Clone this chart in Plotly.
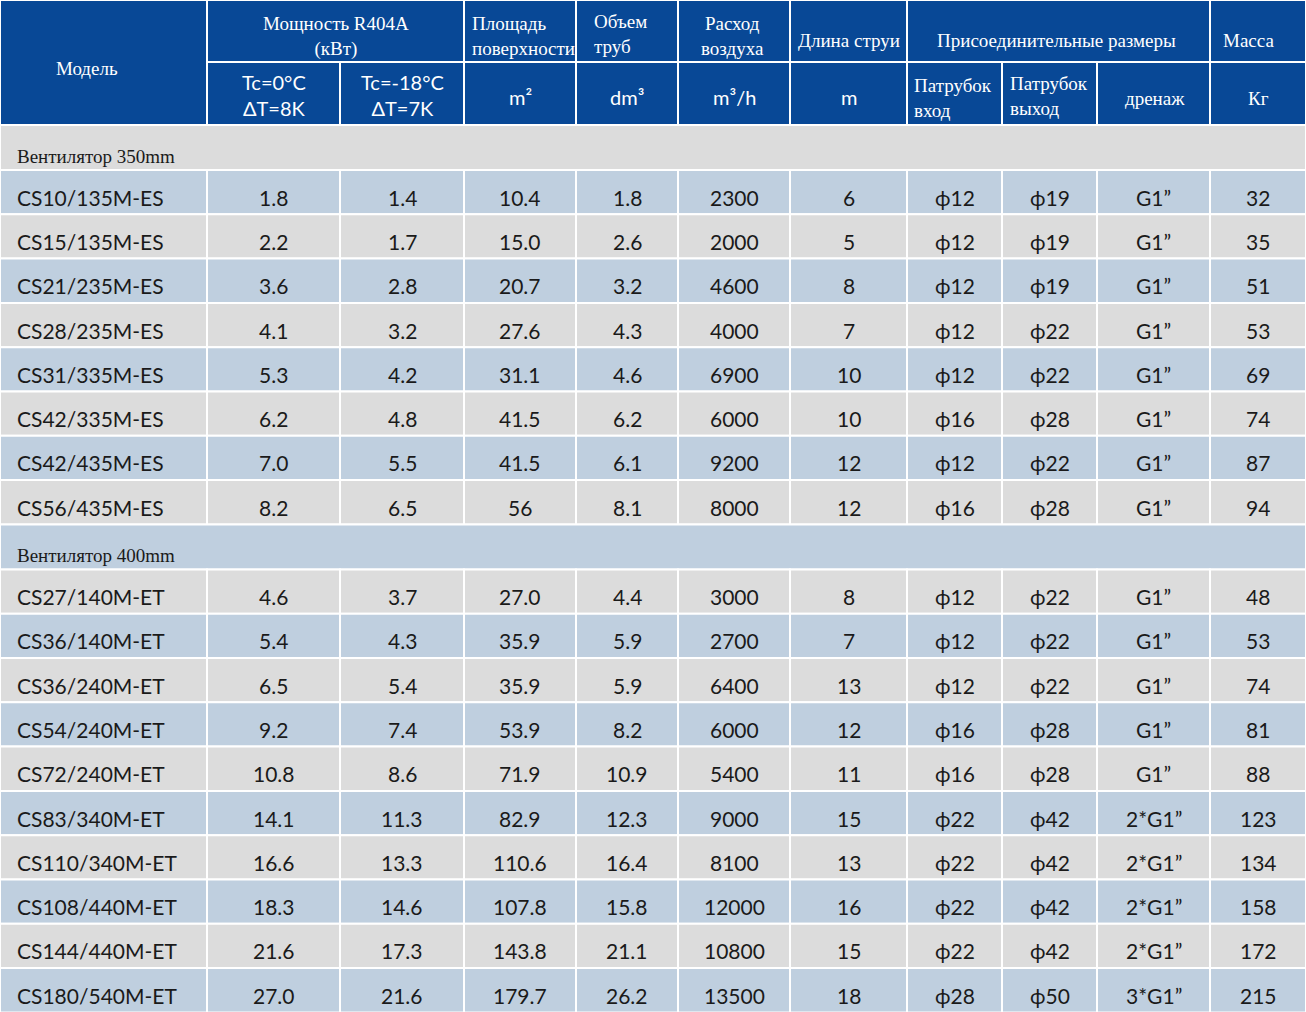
import plotly.graph_objects as go

# --- table data ---
models_350 = ["CS10/135M-ES", "CS15/135M-ES", "CS21/235M-ES", "CS28/235M-ES",
              "CS31/335M-ES", "CS42/335M-ES", "CS42/435M-ES", "CS56/435M-ES"]
models_400 = ["CS27/140M-ET", "CS36/140M-ET", "CS36/240M-ET", "CS54/240M-ET", "CS72/240M-ET",
              "CS83/340M-ET", "CS110/340M-ET", "CS108/440M-ET", "CS144/440M-ET", "CS180/540M-ET"]
cap_0 = ["1.8", "2.2", "3.6", "4.1", "5.3", "6.2", "7.0", "8.2",
         "4.6", "5.4", "6.5", "9.2", "10.8", "14.1", "16.6", "18.3", "21.6", "27.0"]
cap_18 = ["1.4", "1.7", "2.8", "3.2", "4.2", "4.8", "5.5", "6.5",
          "3.7", "4.3", "5.4", "7.4", "8.6", "11.3", "13.3", "14.6", "17.3", "21.6"]
area = ["10.4", "15.0", "20.7", "27.6", "31.1", "41.5", "41.5", "56",
        "27.0", "35.9", "35.9", "53.9", "71.9", "82.9", "110.6", "107.8", "143.8", "179.7"]
volume = ["1.8", "2.6", "3.2", "4.3", "4.6", "6.2", "6.1", "8.1",
          "4.4", "5.9", "5.9", "8.2", "10.9", "12.3", "16.4", "15.8", "21.1", "26.2"]
airflow = ["2300", "2000", "4600", "4000", "6900", "6000", "9200", "8000",
           "3000", "2700", "6400", "6000", "5400", "9000", "8100", "12000", "10800", "13500"]
throw = ["6", "5", "8", "7", "10", "10", "12", "12",
         "8", "7", "13", "12", "11", "15", "13", "16", "15", "18"]
inlet = ["ϕ12", "ϕ12", "ϕ12", "ϕ12", "ϕ12", "ϕ16", "ϕ12", "ϕ16",
         "ϕ12", "ϕ12", "ϕ12", "ϕ16", "ϕ16", "ϕ22", "ϕ22", "ϕ22", "ϕ22", "ϕ28"]
outlet = ["ϕ19", "ϕ19", "ϕ19", "ϕ22", "ϕ22", "ϕ28", "ϕ22", "ϕ28",
          "ϕ22", "ϕ22", "ϕ22", "ϕ28", "ϕ28", "ϕ42", "ϕ42", "ϕ42", "ϕ42", "ϕ50"]
drain = ["G1”"] * 13 + ["2*G1”"] * 4 + ["3*G1”"]
mass = ["32", "35", "51", "53", "69", "74", "87", "94",
        "48", "53", "74", "81", "88", "123", "134", "158", "172", "215"]
sections = ["Вентилятор 350mm", "Вентилятор 400mm"]

# --- layout geometry (pixels) ---
W, H = 1306, 1012
xs = [0, 207, 340, 464, 576, 678, 790, 907, 1002, 1097, 1210, 1306]
HDR = "#084896"
BLUE = "#bfcfdf"
GRAY = "#dcdcdc"
SERIF = "Liberation Serif"
SANS = "Lato"

shapes = []
ann = []


def cell(x0, x1, y0, y1, color):
    shapes.append(dict(type="rect", x0=x0, x1=x1, y0=y0, y1=y1, fillcolor=color,
                       line=dict(color="white", width=2), layer="below"))


def text(x, y, s, font, size, color="#1a1a1a", anchor="center"):
    ann.append(dict(x=x, y=y, text=s, showarrow=False, xanchor=anchor, yanchor="middle",
                    align=anchor if anchor != "center" else "center",
                    font=dict(family=font, size=size, color=color)))


# header
h0, h1, h2 = 0, 62, 125
for x0, x1, y0, y1 in [(xs[0], xs[1], h0, h2), (xs[1], xs[3], h0, h1), (xs[3], xs[4], h0, h1),
                       (xs[4], xs[5], h0, h1), (xs[5], xs[6], h0, h1), (xs[6], xs[7], h0, h1),
                       (xs[7], xs[10], h0, h1), (xs[10], xs[11], h0, h1)]:
    cell(x0, x1, y0, y1, HDR)
for i in range(1, 11):
    cell(xs[i], xs[i + 1], h1, h2, HDR)

WH = "white"
text(87, 68, "Модель", SERIF, 19, WH)
text(336, 36, "Мощность R404A<br>(кВт)", SERIF, 19, WH)
text(470, 36, "Площадь<br>поверхности", SERIF, 19, WH, "left")
text(592, 34, "Объем<br>труб", SERIF, 19, WH, "left")
text(732, 36, "Расход<br>воздуха", SERIF, 19, WH)
text(849, 40, "Длина струи", SERIF, 19, WH)
text(1056, 40, "Присоединительные размеры", SERIF, 19, WH)
text(1248, 40, "Масса", SERIF, 19, WH)
text(274, 95, "Tc=0°C<br>ΔT=8K", SANS, 20, WH)
text(402, 95, "Tc=-18°C<br>ΔT=7K", SANS, 20, WH)
text(520, 97, "m²", SANS, 20, WH)
text(627, 97, "dm³", SANS, 20, WH)
text(734, 97, "m³/h", SANS, 20, WH)
text(849, 97, "m", SANS, 20, WH)
text(912, 98, "Патрубок<br>вход", SERIF, 19, WH, "left")
text(1008, 96, "Патрубок<br>выход", SERIF, 19, WH, "left")
text(1155, 98, "дренаж", SERIF, 19, WH)
text(1258, 98, "Кг", SERIF, 19, WH)

# body
cols = [cap_0, cap_18, area, volume, airflow, throw, inlet, outlet, drain, mass]
models = models_350 + models_400
sec_h = 45
row_h = 44.3
y = h2
idx = 0
for s, (name, group) in enumerate(zip(sections, [models_350, models_400])):
    sec_color = GRAY if s == 0 else BLUE
    cell(0, W, y, y + sec_h, sec_color)
    text(15, y + 31, name, SERIF, 19, anchor="left")
    y += sec_h
    for k in range(len(group)):
        color = BLUE if k % 2 == 0 else GRAY
        if s == 1:
            color = GRAY if k % 2 == 0 else BLUE
        for i in range(11):
            cell(xs[i], xs[i + 1], y, y + row_h, color)
        yc = y + row_h / 2 + 5
        text(15, yc, models[idx], SANS, 21, anchor="left")
        for i, col in enumerate(cols):
            text((xs[i + 1] + xs[i + 2]) / 2, yc, col[idx], SANS, 21)
        y += row_h
        idx += 1

fig = go.Figure()
fig.update_layout(width=W, height=H, margin=dict(l=0, r=0, t=0, b=0),
                  paper_bgcolor="white", plot_bgcolor="white",
                  shapes=shapes, annotations=ann, showlegend=False,
                  xaxis=dict(range=[0, W], visible=False, fixedrange=True),
                  yaxis=dict(range=[H, 0], visible=False, fixedrange=True))
fig.write_html("out.html", config={"displayModeBar": False},
               post_script="document.body.style.margin='0';document.body.style.overflow='hidden';")
